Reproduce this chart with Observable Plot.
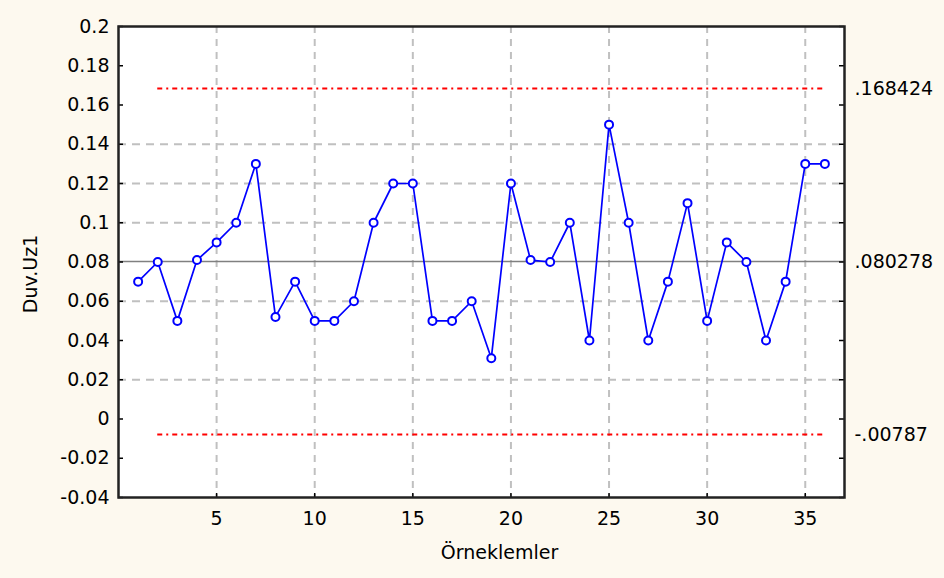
<!DOCTYPE html>
<html><head><meta charset="utf-8">
<script src="https://cdn.jsdelivr.net/npm/d3@7"></script>
<script src="https://cdn.jsdelivr.net/npm/@observablehq/plot@0.6"></script>
<style>html,body{margin:0;padding:0;background:#fdf9ef;}</style>
</head><body><div id="chart"></div>
<script>
// ---- data ----
const samples = [1,2,3,4,5,6,7,8,9,10,11,12,13,14,15,16,17,18,19,20,21,22,23,24,25,26,27,28,29,30,31,32,33,34,35,36];
const values  = [0.07,0.08,0.05,0.081,0.09,0.10,0.13,0.052,0.07,0.05,0.05,0.06,0.10,0.12,0.12,0.05,0.05,0.06,0.031,0.12,0.081,0.08,0.10,0.04,0.15,0.10,0.04,0.07,0.11,0.05,0.09,0.08,0.04,0.07,0.13,0.13];
const limitValues = [0.168424, 0.080278, -0.00787];
const limitLabels = [".168424", ".080278", "-.00787"];
const limitRange = [2, 36];
const xTicks = [5,10,15,20,25,30,35];
const yTicks = [-0.04,-0.02,0,0.02,0.04,0.06,0.08,0.1,0.12,0.14,0.16,0.18,0.2];
const yGrid = [0.02,0.06,0.1,0.12,0.14];
const xLabel = "Örneklemler";
const yLabel = "Duv.Uz1";

const W = 944, H = 578;
const ml = 118, mr = 100, mt = 26, mb = 81;
const innerW = W - ml - mr, innerH = H - mt - mb;
const pts = samples.map((s, i) => ({x: s, y: values[i]}));
const limits = limitValues.map((v, i) => ({y: v, label: limitLabels[i]}));
const font = "DejaVu Sans";

const plot = Plot.plot({
  width: W, height: H,
  marginLeft: ml, marginRight: mr, marginTop: mt, marginBottom: mb,
  style: {background: "#fdf9ef", fontFamily: font, fontSize: "19px", color: "#000"},
  x: {domain: [0, 37]},
  y: {domain: [-0.04, 0.2]},
  marks: [
    Plot.frame({fill: "white", stroke: null}),
    Plot.gridX(xTicks, {stroke: "#c0c0c0", strokeOpacity: 1, strokeWidth: 2, strokeDasharray: "7,6"}),
    Plot.gridY(yGrid, {stroke: "#c0c0c0", strokeOpacity: 1, strokeWidth: 2, strokeDasharray: "8,6"}),
    Plot.ruleY([limitValues[1]], {stroke: "#808080", strokeWidth: 1.6}),
    Plot.ruleY([limitValues[0], limitValues[2]], {x1: limitRange[0], x2: limitRange[1], stroke: "#ff0000", strokeWidth: 2, strokeDasharray: "5,4,2,4"}),
    Plot.line(pts, {x: "x", y: "y", stroke: "#0000ff", strokeWidth: 1.7}),
    Plot.dot(pts, {x: "x", y: "y", r: 4, stroke: "#0000ff", strokeWidth: 2, fill: "white"}),
    Plot.tickY(yTicks, {y: d => d, insetRight: innerW - 5, stroke: "#000", strokeWidth: 1.5}),
    Plot.tickY(yTicks, {y: d => d, insetLeft: innerW - 5, stroke: "#000", strokeWidth: 1.5}),
    Plot.tickX(xTicks, {x: d => d, insetTop: innerH - 4, stroke: "#000", strokeWidth: 1.5}),
    Plot.axisY(yTicks, {tickSize: 0, tickPadding: 9, tickFormat: d => String(d), label: null, fontFamily: font, fontSize: 19}),
    Plot.axisX(xTicks, {tickSize: 0, tickPadding: 14, tickFormat: d => String(d), label: null, fontFamily: font, fontSize: 19}),
    Plot.text(limits, {y: "y", text: "label", frameAnchor: "right", dx: 10, textAnchor: "start", fontFamily: font, fontSize: 19, fill: "#000"}),
    Plot.text([xLabel], {frameAnchor: "bottom", dx: 18, dy: 61, fontFamily: font, fontSize: 19, fill: "#000"}),
    Plot.text([yLabel], {frameAnchor: "left", textAnchor: "middle", rotate: -90, dx: -88, dy: 12, fontFamily: font, fontSize: 19, fill: "#000"}),
    Plot.frame({stroke: "#222", strokeWidth: 2.5})
  ]
});
document.getElementById("chart").appendChild(plot);
</script>
</body></html>
